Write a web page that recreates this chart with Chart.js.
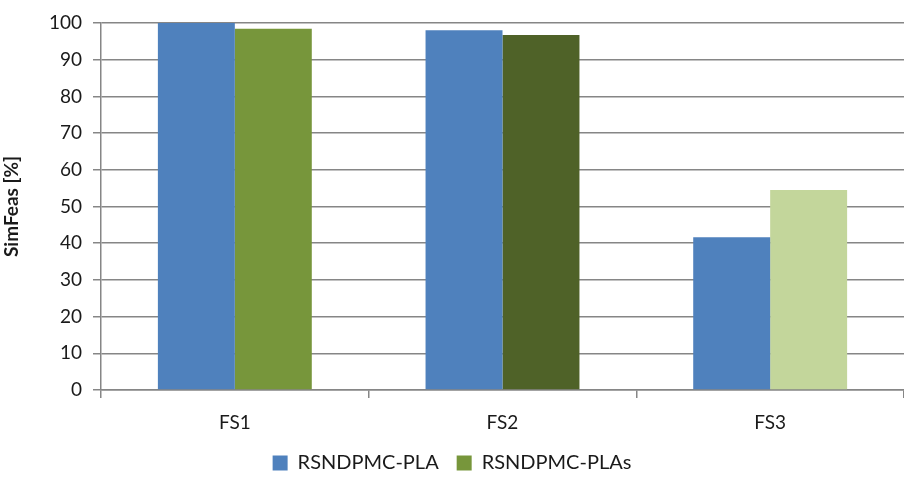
<!DOCTYPE html>
<html>
<head>
<meta charset="utf-8">
<script src="https://cdn.jsdelivr.net/npm/chart.js@4.4.1/dist/chart.umd.min.js"></script>
<style>
  html, body { margin: 0; padding: 0; background: #fff; }
  #wrap { width: 904px; height: 487px; }
</style>
</head>
<body>
<div id="wrap"><canvas id="simFeasChart"></canvas></div>
<script>
// chart data
const categories = ["FS1", "FS2", "FS3"];
const plaValues = [100, 98.0, 41.6];
const plasValues = [98.4, 96.7, 54.5];
const plasColors = ["#77963B", "#4F6228", "#C3D69B"];
const yTicks = [0, 10, 20, 30, 40, 50, 60, 70, 80, 90, 100];

const gridColor = "#868686";
const fontFamily = "Lato, 'Open Sans', sans-serif";

const ctx = document.getElementById("simFeasChart").getContext("2d");

new Chart(ctx, {
  type: "bar",
  data: {
    labels: categories,
    datasets: [
      {
        label: "RSNDPMC-PLA",
        data: plaValues,
        backgroundColor: "#4F81BD",
        categoryPercentage: 0.575,
        barPercentage: 1.0,
      },
      {
        label: "RSNDPMC-PLAs",
        data: plasValues,
        backgroundColor: plasColors,
        categoryPercentage: 0.575,
        barPercentage: 1.0,
      },
    ],
  },
  options: {
    responsive: true,
    maintainAspectRatio: false,
    animation: false,
    layout: { padding: { top: 23, right: 0, bottom: 4, left: 0 } },
    plugins: {
      tooltip: { enabled: false },
      legend: {
        position: "bottom",
        labels: {
          color: "#1a1a1a",
          font: { family: fontFamily, size: 20 },
          boxWidth: 15,
          boxHeight: 15,
          padding: 18,
          // first colour of the array for the legend swatch
          generateLabels: (chart) => {
            const items = Chart.defaults.plugins.legend.labels.generateLabels(chart);
            items.forEach((it, i) => {
              const bg = chart.data.datasets[i].backgroundColor;
              it.fillStyle = Array.isArray(bg) ? bg[0] : bg;
              it.strokeStyle = it.fillStyle;
              it.lineWidth = 0;
            });
            return items;
          },
        },
      },
    },
    scales: {
      x: {
        grid: {
          offset: true,
          drawOnChartArea: false,
          drawTicks: true,
          tickLength: 8,
          color: gridColor,
          lineWidth: 1.5,
        },
        border: { color: gridColor, width: 1.5 },
        ticks: {
          color: "#1a1a1a",
          font: { family: fontFamily, size: 19 },
          padding: 13,
        },
        afterFit: (scale) => { scale.height = 45; },
      },
      y: {
        min: 0,
        max: 100,
        afterBuildTicks: (scale) => {
          scale.ticks = yTicks.map((v) => ({ value: v }));
        },
        grid: {
          color: gridColor,
          lineWidth: 1.5,
          tickLength: 8,
        },
        border: { color: gridColor, width: 1.5 },
        ticks: {
          color: "#1a1a1a",
          font: { family: fontFamily, size: 19 },
          padding: 11,
        },
        title: {
          display: true,
          text: "SimFeas [%]",
          color: "#1a1a1a",
          font: { family: fontFamily, size: 19, weight: "bold" },
          padding: { top: 0, bottom: 0 },
        },
        afterFit: (scale) => { scale.width = 101; },
      },
    },
  },
});
</script>
</body>
</html>
